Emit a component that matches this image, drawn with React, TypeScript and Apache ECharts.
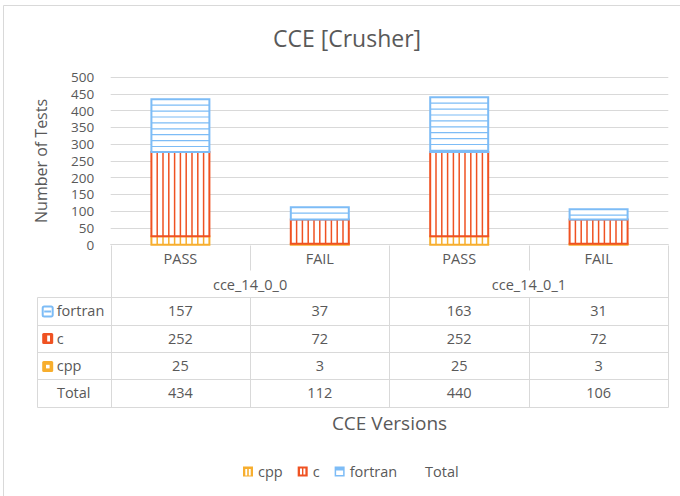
import React, { useEffect, useRef } from 'react';
import * as echarts from 'echarts';

// ---- data ----
const versions = ['cce_14_0_0', 'cce_14_0_1'];
const statuses = ['PASS', 'FAIL'];
const cppValues = [25, 3, 25, 3];
const cValues = [252, 72, 252, 72];
const fortranValues = [157, 37, 163, 31];
const totalValues = [434, 112, 440, 106];
const yMin = 0;
const yMax = 500;
const yInterval = 50;
const titleText = 'CCE [Crusher]';
const yAxisTitle = 'Number of Tests';
const xAxisTitle = 'CCE Versions';

// ---- style ----
const FONT = '"Open Sans", sans-serif';
const TEXT = '#595959';
const GRID = '#d9d9d9';
const BLUE = '#7dbcf6';
const RED = '#ef5222';
const YEL = '#f7ae2e';

const categories = versions.flatMap((v) => statuses.map((s) => `${v} ${s}`));

const stacks = [
  { name: 'cpp', values: cppValues, color: YEL, pattern: 'v' },
  { name: 'c', values: cValues, color: RED, pattern: 'v' },
  { name: 'fortran', values: fortranValues, color: BLUE, pattern: 'h' },
];

const makeRender = (color: string, pattern: string) => (params: any, api: any) => {
  const xi = api.value(0);
  const lo = api.value(1);
  const hi = api.value(2);
  const pLo = api.coord([xi, lo]);
  const pHi = api.coord([xi, hi]);
  const band = api.size([1, 0])[0];
  const w = band * 0.416;
  const x0 = pLo[0] - w / 2;
  const y0 = pHi[1];
  const h = pLo[1] - pHi[1];
  const children: any[] = [];
  children.push({ type: 'rect', shape: { x: x0, y: y0, width: w, height: h }, style: { fill: '#ffffff' } });
  if (pattern === 'v') {
    for (let k = 1; k < 10; k++) {
      const x = x0 + (k * w) / 10;
      children.push({ type: 'line', shape: { x1: x, y1: y0, x2: x, y2: y0 + h }, style: { stroke: color, lineWidth: 1.5 } });
    }
  } else {
    for (let y = y0 + 5.9; y < y0 + h - 1.5; y += 5.9) {
      children.push({ type: 'line', shape: { x1: x0, y1: y, x2: x0 + w, y2: y }, style: { stroke: color, lineWidth: 1.2 } });
    }
  }
  children.push({ type: 'rect', shape: { x: x0, y: y0, width: w, height: h }, style: { fill: 'none', stroke: color, lineWidth: 2 } });
  return { type: 'group', children };
};

function buildSeries() {
  const base = categories.map(() => 0);
  const series: any[] = stacks.map((s) => {
    const data = s.values.map((v, i) => {
      const lo = base[i];
      base[i] += v;
      return [i, lo, base[i]];
    });
    return {
      name: s.name,
      type: 'custom',
      renderItem: makeRender(s.color, s.pattern),
      encode: { x: 0, y: [1, 2] },
      itemStyle: { color: s.color },
      data,
      silent: true,
    };
  });
  series.push({
    name: 'Total',
    type: 'line',
    data: totalValues,
    symbol: 'none',
    lineStyle: { opacity: 0, width: 0 },
    itemStyle: { color: '#ffffff', opacity: 0 },
    silent: true,
  });
  return series;
}

const txt = (text: string, x: number, y: number, align = 'center', size = 14.5) => ({
  type: 'text',
  x,
  y,
  style: {
    text,
    fill: TEXT,
    fontSize: size,
    fontFamily: FONT,
    align,
    textAlign: align,
    verticalAlign: 'middle',
    textVerticalAlign: 'middle',
  },
  silent: true,
});

const hline = (x1: number, x2: number, y: number) => ({
  type: 'line',
  shape: { x1, y1: y, x2, y2: y },
  style: { stroke: GRID, lineWidth: 1 },
  silent: true,
});
const vline = (x: number, y1: number, y2: number) => ({
  type: 'line',
  shape: { x1: x, y1, x2: x, y2 },
  style: { stroke: GRID, lineWidth: 1 },
  silent: true,
});

function buildGraphics(chart: any) {
  const r = (v: number) => Math.round(v) + 0.5;
  const axisY = chart.convertToPixel({ yAxisIndex: 0 }, 0);
  const centers = categories.map((_, i) => chart.convertToPixel({ xAxisIndex: 0 }, i));
  const band = centers[1] - centers[0];
  const edges = [centers[0] - band / 2, ...centers.map((c: number) => c + band / 2)];
  const tableLeft = edges[0] - 74;
  const headerSplit = axisY + 25;
  const tableTop = axisY + 52.6;
  const rowH = 27.3;
  const tableBottom = tableTop + rowH * 4;
  const g: any[] = [];

  // outer chart border (only top/left visible)
  g.push({ type: 'rect', shape: { x: 3.5, y: 5.5, width: 760, height: 600 }, style: { fill: 'none', stroke: GRID, lineWidth: 1 }, silent: true, z: -10 });

  // vertical lines
  edges.forEach((x: number, i: number) => {
    if (i % 2 === 0) {
      g.push(vline(r(x), r(axisY), r(tableBottom)));
    } else {
      g.push(vline(r(x), r(axisY), r(headerSplit)));
      g.push(vline(r(x), r(tableTop), r(tableBottom)));
    }
  });
  g.push(vline(r(tableLeft), r(tableTop), r(tableBottom)));
  for (let k = 0; k <= 4; k++) g.push(hline(r(tableLeft), r(edges[4]), r(tableTop + k * rowH)));

  // header labels
  categories.forEach((_, i) => g.push(txt(statuses[i % statuses.length], centers[i], axisY + 13.5)));
  versions.forEach((v, j) => g.push(txt(v, edges[j * 2 + 1], axisY + 39.5)));

  // rows
  const rows = [
    { name: 'fortran', values: fortranValues, color: BLUE, key: 'h' },
    { name: 'c', values: cValues, color: RED, key: 'v' },
    { name: 'cpp', values: cppValues, color: YEL, key: 's' },
    { name: 'Total', values: totalValues, color: '', key: '' },
  ];
  rows.forEach((row, k) => {
    const cy = tableTop + k * rowH + rowH / 2;
    if (row.key) {
      const kx = tableLeft + 5.5;
      const ky = Math.round(cy) - 5;
      if (row.key === 'h') {
        g.push({ type: 'rect', shape: { x: kx + 0.5, y: ky + 0.5, width: 10, height: 10, r: 1.5 }, style: { fill: '#fff', stroke: row.color, lineWidth: 2 }, silent: true });
        g.push({ type: 'rect', shape: { x: kx + 2, y: ky + 4.5, width: 7, height: 2 }, style: { fill: row.color }, silent: true });
      } else if (row.key === 'v') {
        g.push({ type: 'rect', shape: { x: kx, y: ky, width: 11, height: 11, r: 1.5 }, style: { fill: row.color }, silent: true });
        g.push({ type: 'rect', shape: { x: kx + 5, y: ky + 2.5, width: 2.8, height: 6 }, style: { fill: '#fff' }, silent: true });
      } else {
        g.push({ type: 'rect', shape: { x: kx, y: ky, width: 11, height: 11, r: 1.5 }, style: { fill: row.color }, silent: true });
        g.push({ type: 'rect', shape: { x: kx + 3.8, y: ky + 3.8, width: 3.6, height: 3.6 }, style: { fill: '#fff' }, silent: true });
      }
      g.push(txt(row.name, tableLeft + 20, cy, 'left'));
    } else {
      g.push(txt(row.name, (tableLeft + edges[0]) / 2, cy));
    }
    row.values.forEach((v, i) => g.push(txt(String(v), centers[i], cy)));
  });
  return g;
}

export default function App() {
  const ref = useRef<HTMLDivElement>(null);
  useEffect(() => {
    if (!ref.current) return;
    const chart = echarts.init(ref.current, null, { renderer: 'svg' });
    const legendText = { color: TEXT, fontSize: 14.5, fontFamily: FONT };
    chart.setOption({
      animation: false,
      backgroundColor: '#ffffff',
      title: {
        text: titleText,
        left: 347,
        textAlign: 'center',
        top: 26,
        padding: 0,
        textStyle: { color: TEXT, fontSize: 23, fontWeight: 'normal', fontFamily: FONT },
      },
      grid: { left: 110.7, right: 11.7, top: 77.2, bottom: 251.3, containLabel: false },
      legend: [
        {
          left: 238,
          top: 459,
          itemWidth: 10,
          itemHeight: 10,
          itemGap: 15,
          selectedMode: false,
          textStyle: legendText,
          data: [
            { name: 'cpp', icon: 'path://M0,0H10V10H0Z M2.3,2.5V9H4.2V2.5Z M5.8,2.5V9H7.7V2.5Z', itemStyle: { color: YEL } },
            { name: 'c', icon: 'path://M0,0H10V10H0Z M2.3,2V8H4.3V2Z M5.7,2V8H7.7V2Z', itemStyle: { color: RED } },
            { name: 'fortran', icon: 'path://M0,0H10V10H0Z M1.5,4V8.5H8.5V4Z', itemStyle: { color: BLUE } },
          ],
        },
        {
          left: 415,
          top: 459,
          itemWidth: 0,
          itemHeight: 10,
          selectedMode: false,
          textStyle: legendText,
          data: [{ name: 'Total', icon: 'none' }],
        },
      ],
      xAxis: {
        type: 'category',
        data: categories,
        axisLine: { show: true, lineStyle: { color: GRID, width: 1 } },
        axisTick: { show: false },
        axisLabel: { show: false },
        splitLine: { show: false },
        name: xAxisTitle,
        nameLocation: 'middle',
        nameGap: 169,
        nameTextStyle: { color: TEXT, fontSize: 19, fontFamily: FONT },
      },
      yAxis: {
        type: 'value',
        min: yMin,
        max: yMax,
        interval: yInterval,
        axisLine: { show: false },
        axisTick: { show: false },
        axisLabel: { color: TEXT, fontSize: 13.5, lineHeight: 13, fontFamily: FONT, margin: 16.5 },
        splitLine: { show: true, lineStyle: { color: GRID, width: 1 } },
        name: yAxisTitle,
        nameLocation: 'middle',
        nameRotate: 90,
        nameGap: 62,
        nameTextStyle: { color: TEXT, fontSize: 16, fontFamily: FONT },
      },
      series: buildSeries(),
    });
    chart.setOption({ graphic: buildGraphics(chart) });
    return () => chart.dispose();
  }, []);
  return <div ref={ref} style={{ position: 'fixed', left: 0, top: 0, width: 680, height: 496 }} />;
}
